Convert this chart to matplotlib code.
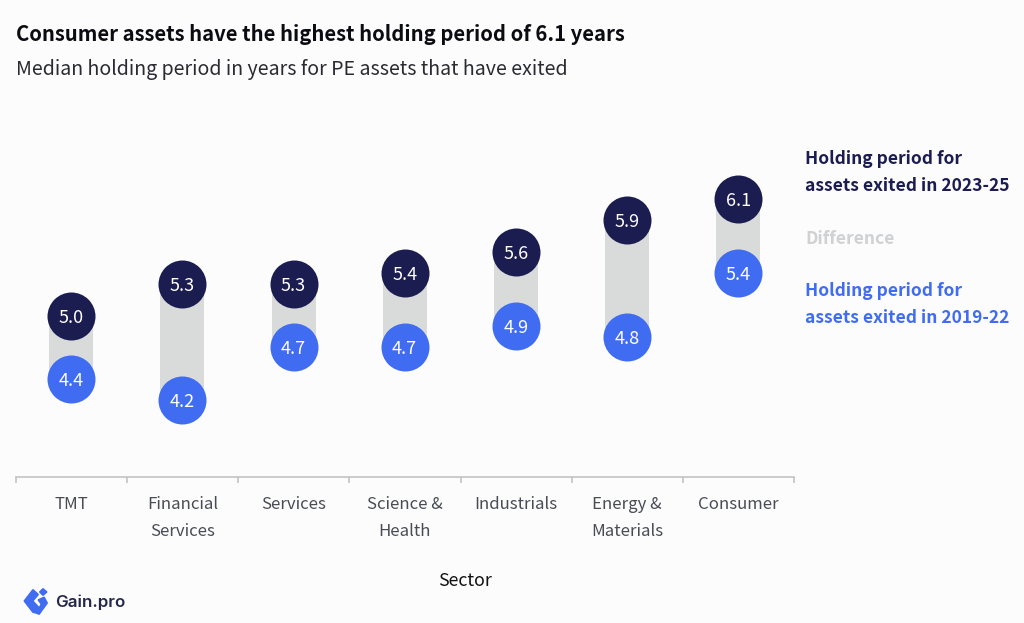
import matplotlib
matplotlib.use("Agg")
import matplotlib.pyplot as plt
from matplotlib.patches import Polygon

FONT = ["Noto Sans CJK SC", "DejaVu Sans"]
plt.rcParams["font.family"] = FONT

sectors = ["TMT", "Financial\nServices", "Services", "Science &\nHealth",
           "Industrials", "Energy &\nMaterials", "Consumer"]
recent = [5.0, 5.3, 5.3, 5.4, 5.6, 5.9, 6.1]
earlier = [4.4, 4.2, 4.7, 4.7, 4.9, 4.8, 5.4]

NAVY = "#1B1C4F"
BLUE = "#3F6CF0"
GREY = "#D9DBDB"
BG = "#FCFCFD"
W, H = 1024, 623


def fx(px):
    return px / W


def fy(py):
    return 1 - py / H


fig = plt.figure(figsize=(10.24, 6.23), dpi=100, facecolor=BG)
ax = fig.add_axes([fx(16), fy(477), fx(778), fy(100) - fy(477)], facecolor="none")

xs = list(range(len(sectors)))
ax.bar(xs, [r - e for r, e in zip(recent, earlier)], bottom=earlier,
       width=0.396, color=GREY, zorder=1)
ax.scatter(xs, recent, s=1194, color=NAVY, linewidths=0, zorder=2, clip_on=False)
ax.scatter(xs, earlier, s=1194, color=BLUE, linewidths=0, zorder=3, clip_on=False)

for x, r, e in zip(xs, recent, earlier):
    ax.text(x, r, f"{r:.1f}", color="white", fontsize=13, ha="center",
            va="center_baseline", zorder=4)
    ax.text(x, e, f"{e:.1f}", color="white", fontsize=13, ha="center",
            va="center_baseline", zorder=4)

ax.set_xlim(-0.497, len(sectors) - 0.497)
ax.set_ylim(3.475, 7.038)
ax.set_yticks([])
for side in ("top", "left", "right"):
    ax.spines[side].set_visible(False)
ax.spines["bottom"].set_color("#BDBFC1")
ax.spines["bottom"].set_linewidth(1.1)

# Tick marks separate the sectors; labels sit between them.
ax.set_xticks([i - 0.497 for i in range(len(sectors) + 1)])
ax.set_xticklabels([])
ax.tick_params(axis="x", length=4.5, width=1.1, color="#BDBFC1")
for x, name in zip(xs, sectors):
    ax.annotate(name, (x, 0), xycoords=("data", "axes fraction"),
                xytext=(0, -13.5), textcoords="offset points", ha="center", va="top",
                fontsize=12.1, color="#4A4C55", linespacing=1.76)

fig.text(fx(465), fy(581), "Sector", fontsize=12.8, color="#111111",
         ha="center", va="center")
fig.text(fx(16), fy(34.5), "Consumer assets have the highest holding period of 6.1 years",
         fontsize=14.6, fontweight="bold", color="#0B0B12", ha="left", va="center")
fig.text(fx(16), fy(69), "Median holding period in years for PE assets that have exited",
         fontsize=14.1, color="#2A2A32", ha="left", va="center")

# Colour key to the right of the plot.
key = [("Holding period for", 159, NAVY), ("assets exited in 2023-25", 186, NAVY),
       ("Difference", 238.5, "#CFD1D2"),
       ("Holding period for", 291, BLUE), ("assets exited in 2019-22", 318, BLUE)]
for label, py, colour in key:
    fig.text(fx(805), fy(py), label, fontsize=12.55, fontweight="bold", color=colour,
             ha="left", va="center")

# Brand mark and wordmark in the lower-left corner.
logo = fig.add_axes([0, 0, 1, 1], facecolor="none")
logo.set_xlim(0, W)
logo.set_ylim(H, 0)
logo.axis("off")
mark = [
    [(33, 590), (24.5, 601), (33, 612), (37, 613), (40, 609), (32.5, 601), (38, 594.5)],
    [(40, 592), (43, 589), (46.5, 592), (43, 595)],
    [(44, 597.5), (47, 603), (39, 614), (37, 613), (41.5, 604), (38.5, 600)],
]
for pts in mark:
    logo.add_patch(Polygon(pts, closed=True, facecolor="#3F6CF0", edgecolor="#3F6CF0",
                           lw=1.4, joinstyle="round"))
fig.text(fx(55), fy(602), "Gain.pro", family="Inter", fontsize=12.2, fontweight="semibold",
         color="#24264A", ha="left", va="center")

fig.savefig("out.png", dpi=100, facecolor=BG)
